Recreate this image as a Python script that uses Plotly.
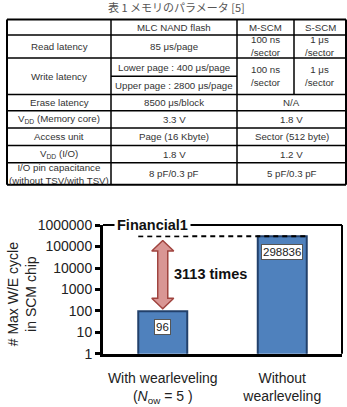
import math
import plotly.graph_objects as go

# ---------------- data ----------------
categories = ["With wearleveling<br>(<i>N</i><sub>ow</sub> = 5 )", "Without<br>wearleveling"]
max_we_cycles = [96, 298836]
y_tick_values = [1, 10, 100, 1000, 10000, 100000, 1000000]
y_tick_labels = ["1", "10", "100", "1000", "10000", "100000", "1000000"]
chart_title = "Financial1"
y_title = "# Max W/E cycle<br>in SCM chip"

caption = "表 1 メモリのパラメータ [5]"
table_header = ["", "MLC NAND flash", "M-SCM", "S-SCM"]
row_labels = ["Read latency", "Write latency", "Erase latency", "V<sub>DD</sub> (Memory core)",
              "Access unit", "V<sub>DD</sub> (I/O)", "I/O pin capacitance<br>(without TSV/with TSV)"]
mlc_values = ["85 μs/page", ["Lower page : 400 μs/page", "Upper page : 2800 μs/page"], "8500 μs/block",
              "3.3 V", "Page (16 Kbyte)", "1.8 V", "8 pF/0.3 pF"]
m_scm_values = ["100 ns<br>/sector", "100 ns<br>/sector"]
s_scm_values = ["1 μs<br>/sector", "1 μs<br>/sector"]
scm_shared_values = ["N/A", "1.8 V", "Sector (512 byte)", "1.2 V", "5 pF/0.3 pF"]

# ---------------- layout helpers ----------------
W, H = 347, 407
FONT = "Liberation Sans, Arial, sans-serif"


def px(x):
    return x / W


def py(y):
    return 1 - y / H


fig = go.Figure()

bar_positions = list(range(len(categories)))
bar_width = 0.41
fig.add_trace(go.Bar(
    x=bar_positions, y=max_we_cycles, width=bar_width,
    marker=dict(color="#4f81bd", line=dict(color="#22406b", width=2)),
    hoverinfo="skip", showlegend=False,
))

# dashed reference line at the maximum value
top_val = max(max_we_cycles)
fig.add_trace(go.Scatter(
    x=[bar_positions[0] - bar_width / 2, bar_positions[-1] + bar_width / 2],
    y=[top_val, top_val], mode="lines",
    line=dict(color="black", width=2, dash="5px,4px"),
    hoverinfo="skip", showlegend=False,
))

# double-headed block arrow between the two values (on bar 1)
lo = math.log10(max_we_cycles[0]) + 0.12
hi = math.log10(top_val) - 0.19
head = 0.49
shaft_hw, head_hw = 0.042, 0.092
xc = bar_positions[0]
ax = [xc, xc + head_hw, xc + shaft_hw, xc + shaft_hw, xc + head_hw, xc,
      xc - head_hw, xc - shaft_hw, xc - shaft_hw, xc - head_hw, xc]
ay_log = [hi, hi - head, hi - head, lo + head, lo + head, lo,
          lo + head, lo + head, hi - head, hi - head, hi]
fig.add_trace(go.Scatter(
    x=ax, y=[10 ** v for v in ay_log], mode="lines", fill="toself",
    fillcolor="#d99694", line=dict(color="#a0443f", width=1.5),
    hoverinfo="skip", showlegend=False,
))

annotations = []
shapes = []

# value labels on bars
for xv, v in zip(bar_positions, max_we_cycles):
    annotations.append(dict(
        x=xv, y=math.log10(v), xref="x", yref="y", yshift=-16,
        text=str(v), showarrow=False,
        font=dict(family=FONT, size=11.5, color="#222"),
        bgcolor="white", bordercolor="#555", borderwidth=1, borderpad=1,
    ))

ratio = round(max_we_cycles[1] / max_we_cycles[0])
annotations.append(dict(
    x=px(172), y=py(277), xref="paper", yref="paper", xanchor="left", yanchor="middle",
    text=f"<b>{ratio} times</b>", showarrow=False,
    font=dict(family=FONT, size=14.5, color="#111"),
))

# frame top & right (thinner)
shapes.append(dict(type="line", xref="x domain", yref="y domain", x0=0, x1=1, y0=1, y1=1,
                   line=dict(color="black", width=2)))
shapes.append(dict(type="line", xref="x domain", yref="y domain", x0=1, x1=1, y0=0, y1=1,
                   line=dict(color="black", width=2)))

annotations.append(dict(
    x=px(152.5), y=py(226), xref="paper", yref="paper", xanchor="center", yanchor="middle",
    text=f"<b>{chart_title}</b>", showarrow=False, bgcolor="white", borderpad=2,
    font=dict(family=FONT, size=14.5, color="#111"),
))

annotations.append(dict(
    x=px(22), y=py(298), xref="paper", yref="paper", xanchor="center", yanchor="middle",
    text=y_title, showarrow=False, textangle=-90,
    font=dict(family=FONT, size=14, color="#222"),
))

# ---------------- table ----------------
TF = dict(family=FONT, size=9.7, color="#333")
col_edges = [7, 111, 237, 294, 346]
row_edges = [12, 28, 52, 90, 107, 125, 143, 161, 184]
write_split = 71


def hline(y, x0, x1, w=1.5):
    shapes.append(dict(type="line", xref="paper", yref="paper", x0=px(x0), x1=px(x1),
                       y0=py(y), y1=py(y), line=dict(color="black", width=w)))


def vline(x, y0, y1, w=1.5):
    shapes.append(dict(type="line", xref="paper", yref="paper", x0=px(x), x1=px(x),
                       y0=py(y0), y1=py(y1), line=dict(color="black", width=w)))


def cell(text, x, y):
    annotations.append(dict(x=px(x), y=py(y), xref="paper", yref="paper",
                            xanchor="center", yanchor="middle", text=text,
                            showarrow=False, font=TF))


for i, y in enumerate(row_edges):
    hline(y, col_edges[0], col_edges[-1], 2 if i in (0, len(row_edges) - 1) else 1.5)
hline(write_split, col_edges[1], col_edges[2])
vline(col_edges[0], row_edges[0], row_edges[-1], 2)
vline(col_edges[-1], row_edges[0], row_edges[-1], 2)
vline(col_edges[1], row_edges[0], row_edges[-1])
vline(col_edges[2], row_edges[0], row_edges[-1])
vline(col_edges[3], row_edges[0], row_edges[3])

cc = [(col_edges[i] + col_edges[i + 1]) / 2 for i in range(4)]
merged_c = (col_edges[2] + col_edges[4]) / 2
rc = [(row_edges[i] + row_edges[i + 1]) / 2 for i in range(len(row_edges) - 1)]

for j, t in enumerate(table_header):
    if t:
        cell(t, cc[j], rc[0])
for i, lab in enumerate(row_labels):
    r = i + 1
    cell(lab, cc[0], rc[r])
    mv = mlc_values[i]
    if isinstance(mv, list):
        cell(mv[0], cc[1], (row_edges[r] + write_split) / 2)
        cell(mv[1], cc[1], (write_split + row_edges[r + 1]) / 2)
    else:
        cell(mv, cc[1], rc[r])
    if i < len(m_scm_values):
        cell(m_scm_values[i], cc[2], rc[r])
        cell(s_scm_values[i], cc[3], rc[r])
    else:
        cell(scm_shared_values[i - len(m_scm_values)], merged_c, rc[r])

annotations.append(dict(x=px(176), y=py(-1), xref="paper", yref="paper",
                        xanchor="center", yanchor="middle", text=caption, showarrow=False,
                        font=dict(family="Noto Sans CJK JP, sans-serif", size=11, color="#555")))

fig.update_layout(
    width=W, height=H,
    margin=dict(l=0, r=0, t=0, b=0),
    paper_bgcolor="white", plot_bgcolor="white",
    showlegend=False,
    xaxis=dict(domain=[px(103), px(342)], range=[-0.5, 1.5], tickvals=bar_positions,
               ticktext=categories, showline=True, linecolor="black", linewidth=3,
               ticks="", showgrid=False, zeroline=False, fixedrange=True,
               ticklabelstandoff=9,
               tickfont=dict(family=FONT, size=14, color="#222")),
    yaxis=dict(domain=[py(360), py(226)], type="log", range=[0, 6],
               tickvals=y_tick_values, ticktext=y_tick_labels,
               showline=True, linecolor="black", linewidth=3,
               ticks="outside", ticklen=5, tickwidth=2.5, tickcolor="black",
               showgrid=False, zeroline=False, fixedrange=True,
               tickfont=dict(family=FONT, size=14, color="#222")),
    shapes=shapes, annotations=annotations,
)

fig.write_html("out.html")
